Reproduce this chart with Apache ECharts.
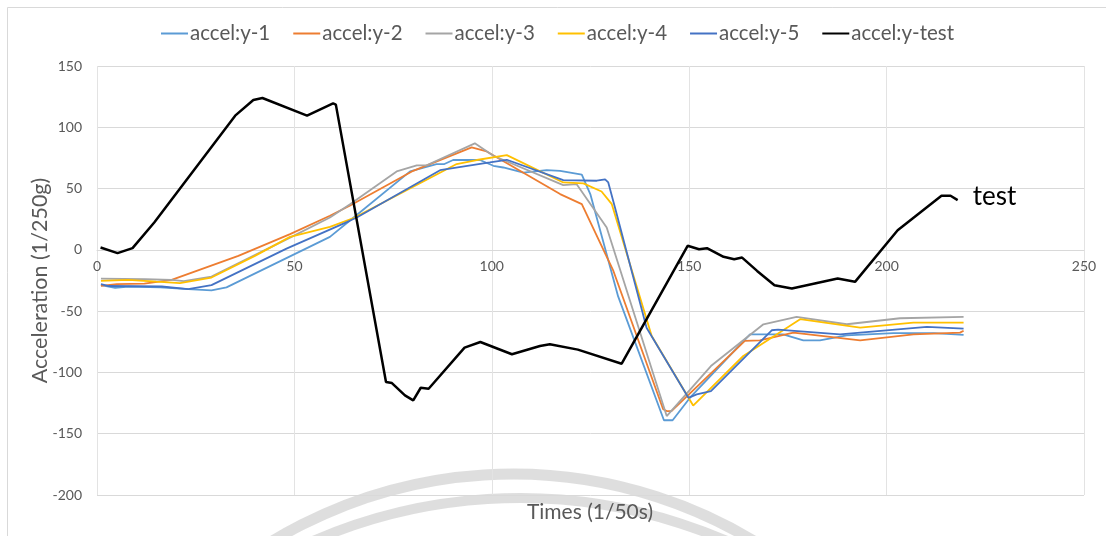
<!DOCTYPE html>
<html>
<head>
<meta charset="utf-8">
<script src="https://cdn.jsdelivr.net/npm/echarts@6/dist/echarts.min.js"></script>
<style>
html,body{margin:0;padding:0;background:#fff;}
#chart{width:1106px;height:536px;}
</style>
</head>
<body>
<div id="chart"></div>
<script>
const seriesNames = ['accel:y-1','accel:y-2','accel:y-3','accel:y-4','accel:y-5','accel:y-test'];
const seriesColors = ['#5B9BD5','#ED7D31','#A5A5A5','#FFC000','#4472C4','#000000'];

const y1 = [[1,-28.8],[4.6,-31],[8,-30],[16,-30.5],[23.1,-32.1],[29,-33],[32.8,-30.6],[59,10.6],[64,23.7],[79.3,64],[86,70],[88,70],[90.2,73.3],[97,73.3],[100.4,68.6],[102.9,67.2],[108,63],[113.9,65],[117.3,64.5],[122.8,61.3],[125,45],[132,-38],[143.6,-139],[145.8,-139],[150.2,-120.6],[165.4,-68.9],[173.8,-69],[178.9,-73.8],[183.1,-73.8],[189.9,-69.7],[201.7,-68],[212,-68],[219.5,-69.4]];
const y2 = [[1,-29.4],[5,-28],[12,-27.5],[18.9,-24.5],[35.8,-4.9],[48.9,12.8],[59,27.8],[64,36],[80.1,64.5],[94.9,83.6],[98.7,80.3],[117.3,45.5],[122.8,37.3],[130.8,-17.2],[143.4,-130],[144.3,-131.5],[145.5,-131.5],[164.1,-74.3],[167.9,-73.8],[176.4,-67.5],[193.3,-73.8],[206.8,-68.9],[218.6,-67.5],[219.5,-66]];
const y3 = [[1,-23.4],[12.2,-24],[18.9,-24.5],[22,-25.5],[29,-21.8],[48.9,10],[59,26.4],[64,37],[75.9,64],[81,69],[83.5,69],[95.7,86.9],[100.4,76.8],[118.1,52.8],[121.5,53.6],[129.1,18.2],[144.3,-135.6],[155.5,-94.8],[168.8,-60.7],[177.2,-54.7],[189.9,-60.7],[203.4,-55.8],[219.5,-54.7]];
const y4 = [[1,-25.3],[7.9,-24.5],[15,-26],[21,-27.2],[29,-22.6],[40,-4.9],[48.9,10.6],[59,18.8],[65,26],[91.1,70],[96.2,73.3],[103.8,77.3],[118.1,55],[123.2,54.2],[127.8,47.6],[130.4,37.3],[140.5,-70.3],[151,-127],[163.7,-86.6],[178.1,-56.6],[193.3,-63.5],[206.8,-59.4],[219.5,-59.4]];
const y5 = [[1,-28],[3,-29.5],[16.4,-29.9],[23.1,-32.1],[29,-28.8],[48,1],[64,23.7],[65.8,26.4],[86.9,65],[99.5,71.3],[103.8,73.5],[118.1,56.9],[126.6,56.4],[128.7,57.5],[129.5,55],[131.2,34.6],[139.2,-63.5],[149.8,-120.7],[151.9,-117.9],[155.5,-115.2],[170.9,-65.6],[172.5,-65],[188.2,-68.9],[210.2,-62.9],[219.5,-64.3]];
const yTest = [[0.9,1.9],[5.2,-2.7],[9,1.4],[14.5,22.3],[35,109.5],[39.6,122.3],[41.9,123.9],[53.2,109.5],[59.8,119.5],[60.5,118.5],[73.2,-107.8],[74.7,-108.7],[78,-118.7],[80.1,-122.8],[82,-112.5],[84,-113.3],[93.1,-79.8],[97.1,-75.2],[105.1,-85.2],[112.2,-78.4],[114.7,-77],[121.8,-81.4],[132.9,-92.9],[149.6,3.3],[152.5,0.5],[154.5,1.4],[158.7,-5.7],[161.4,-7.6],[163.4,-6.3],[167.2,-17.2],[171.6,-28.9],[176,-31.6],[187.6,-23.4],[192,-26.1],[202.8,16],[213.9,44.1],[216.2,44.1],[218,40.6]];
const testLabel = 'test';

const xName = 'Times (1/50s)';
const yName = 'Acceleration (1/250g)';
const xMin = 0, xMax = 250, xStep = 50;
const yMin = -200, yMax = 150, yStep = 50;

const allData = [y1, y2, y3, y4, y5, yTest];
const FONT = 'Lato';
const TXT = '#595959';

const GRID = {left: 97, right: 22, top: 66, bottom: 41};
const plotH = 536 - GRID.top - GRID.bottom;
// x axis sits on the y = 0 line (as in the original), labels beside it
const xAxisOffset = -plotH * (0 - yMin) / (yMax - yMin);

const chart = echarts.init(document.getElementById('chart'), null, {renderer: 'canvas'});
chart.setOption({
  animation: false,
  backgroundColor: '#ffffff',
  textStyle: {fontFamily: FONT},
  legend: {
    top: 18,
    left: 156,
    itemWidth: 27,
    itemHeight: 2,
    itemGap: 23,
    icon: 'rect',
    textStyle: {color: TXT, fontSize: 20.5, fontFamily: FONT, padding: [0,0,0,-3]},
    data: seriesNames
  },
  grid: Object.assign({containLabel: false}, GRID),
  xAxis: {
    type: 'value', min: xMin, max: xMax, interval: xStep,
    position: 'bottom', offset: xAxisOffset,
    axisLine: {show: true, onZero: false, lineStyle: {color: '#d9d9d9', width: 1}},
    axisTick: {show: false},
    axisLabel: {color: TXT, fontSize: 14, fontFamily: FONT, margin: 10},
    splitLine: {show: true, lineStyle: {color: '#e3e3e3', width: 1}}
  },
  yAxis: {
    type: 'value', min: yMin, max: yMax, interval: yStep,
    name: yName, nameLocation: 'middle', nameGap: 46, nameRotate: 90,
    nameMoveOverlap: false,
    nameTextStyle: {color: TXT, fontSize: 21.5, fontFamily: FONT},
    axisLine: {show: false, onZero: false},
    axisTick: {show: false},
    axisLabel: {color: TXT, fontSize: 14, fontFamily: FONT, margin: 15},
    splitLine: {show: true, lineStyle: {color: '#d9d9d9', width: 1}}
  },
  graphic: [
    {type: 'rect', z: -10, silent: true, shape: {x: 7.5, y: 7.5, width: 1110, height: 540},
     style: {fill: 'none', stroke: '#d9d9d9', lineWidth: 1}},
    {type: 'arc', z: -5, silent: true, shape: {cx: 513, cy: 939, r: 465, startAngle: Math.PI*1.1, endAngle: Math.PI*1.9},
     style: {fill: 'none', stroke: 'rgba(200,200,200,0.6)', lineWidth: 11}},
    {type: 'arc', z: -5, silent: true, shape: {cx: 520, cy: 1017, r: 519, startAngle: Math.PI*1.1, endAngle: Math.PI*1.9},
     style: {fill: 'none', stroke: 'rgba(200,200,200,0.6)', lineWidth: 10}},
    {type: 'text', silent: true, x: 590, y: 512,
     style: {text: xName, fill: TXT, fontSize: 21, fontFamily: FONT, textAlign: 'center', textVerticalAlign: 'middle'}}
  ],
  series: seriesNames.map((name, i) => {
    const isTest = i === 5;
    const s = {
      name: name,
      type: 'line',
      data: allData[i],
      symbol: 'none',
      smooth: false,
      color: seriesColors[i],
      lineStyle: {color: seriesColors[i], width: isTest ? 2.5 : 1.8},
      z: isTest ? 3 : 2
    };
    if (isTest) {
      s.endLabel = {show: true, formatter: testLabel, color: '#000', fontSize: 26, fontFamily: FONT, distance: 15, offset: [0, -3]};
    }
    return s;
  })
});
</script>
</body>
</html>
